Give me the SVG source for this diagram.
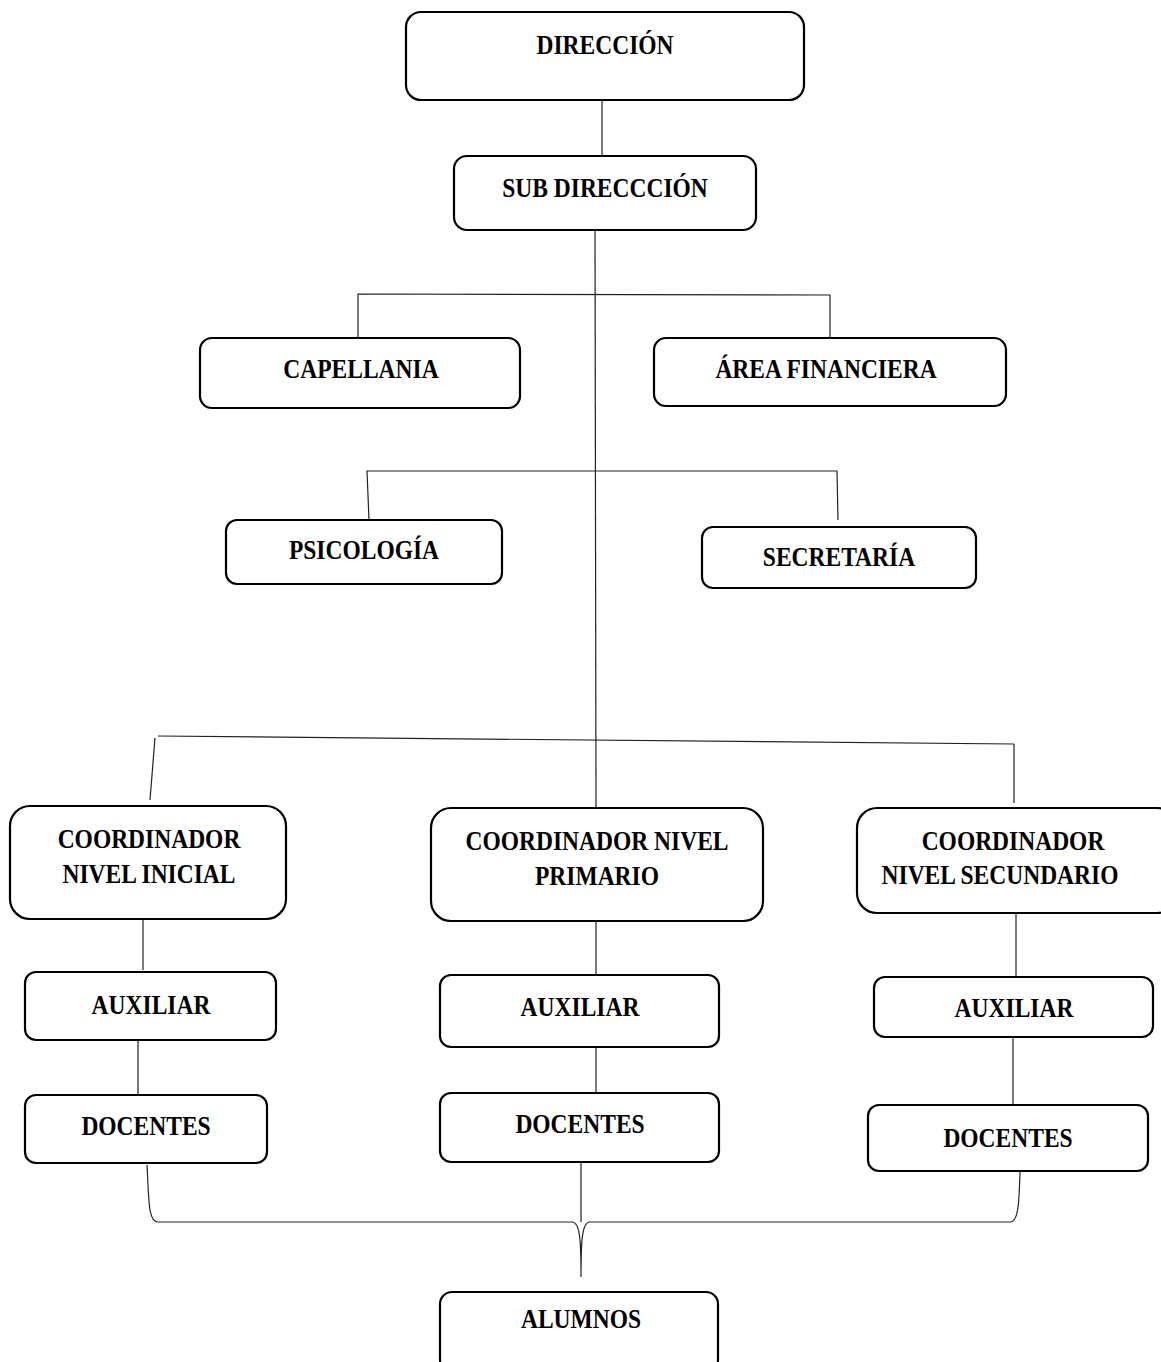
<svg xmlns="http://www.w3.org/2000/svg" width="1161" height="1362" viewBox="0 0 1161 1362">
<style>
.box{fill:#fff;stroke:#000;stroke-width:2.2}
.t{font-family:"Liberation Serif","Times New Roman",serif;font-weight:bold;font-size:23.5px;fill:#000;text-anchor:middle}
.c{fill:none;stroke:#222;stroke-width:1.2}
</style>
<rect width="1161" height="1362" fill="#fff"/>
<g id="connectors">
<line class="c" x1="602" y1="100" x2="602" y2="156"/>
<line class="c" x1="595" y1="225" x2="596" y2="808"/>
<polyline class="c" points="358,338 358,294 830,295 830,345"/>
<polyline class="c" points="369,520 367,471 837,471 838,520"/>
<line class="c" x1="158" y1="736" x2="1014" y2="744"/>
<line class="c" x1="155" y1="738" x2="150" y2="800"/>
<line class="c" x1="1014" y1="744" x2="1014" y2="803"/>
<line class="c" x1="143" y1="906" x2="143" y2="970"/>
<line class="c" x1="596" y1="913" x2="596" y2="975"/>
<line class="c" x1="1016" y1="908" x2="1016" y2="977"/>
<line class="c" x1="138" y1="1040" x2="138" y2="1095"/>
<line class="c" x1="596" y1="1047" x2="596" y2="1093"/>
<line class="c" x1="1013" y1="1037" x2="1013" y2="1105"/>
<line class="c" x1="581" y1="1162" x2="581" y2="1222"/>
<path class="c" d="M147,1165 C149,1200 148,1222 158,1222 L572,1222 C580,1222 581,1240 581,1277 C581,1240 582,1222 590,1222 L1010,1222 C1019,1222 1019,1200 1020,1172"/>
</g>
<g id="direccion"><rect class="box" x="406" y="12" width="398" height="88" rx="15"/><text class="t" transform="translate(605,54) scale(1,1.16)">DIRECCIÓN</text></g>
<g id="subdireccion"><rect class="box" x="454" y="156" width="302" height="74" rx="13"/><text class="t" transform="translate(605,197) scale(1,1.16)">SUB DIRECCCIÓN</text></g>
<g id="capellania"><rect class="box" x="200" y="338" width="320" height="70" rx="12"/><text class="t" transform="translate(361,378) scale(1,1.16)">CAPELLANIA</text></g>
<g id="area-financiera"><rect class="box" x="654" y="338" width="352" height="68" rx="12"/><text class="t" transform="translate(826,378) scale(1,1.16)">ÁREA FINANCIERA</text></g>
<g id="psicologia"><rect class="box" x="226" y="520" width="276" height="64" rx="11"/><text class="t" transform="translate(364,559) scale(1,1.16)">PSICOLOGÍA</text></g>
<g id="secretaria"><rect class="box" x="702" y="527" width="274" height="61" rx="11"/><text class="t" transform="translate(839,566) scale(1,1.16)">SECRETARÍA</text></g>
<g id="coord-inicial"><rect class="box" x="10" y="806" width="276" height="113" rx="20"/><text class="t" transform="translate(149,848) scale(1,1.16)">COORDINADOR</text><text class="t" transform="translate(149,883) scale(1,1.16)">NIVEL INICIAL</text></g>
<g id="coord-primario"><rect class="box" x="431" y="808" width="332" height="113" rx="20"/><text class="t" transform="translate(597,850) scale(1,1.16)">COORDINADOR NIVEL</text><text class="t" transform="translate(597,885) scale(1,1.16)">PRIMARIO</text></g>
<g id="coord-secundario"><rect class="box" x="857" y="808" width="320" height="105" rx="20"/><text class="t" transform="translate(1013,850) scale(1,1.16)">COORDINADOR</text><text class="t" transform="translate(1000,884) scale(1,1.16)">NIVEL SECUNDARIO</text></g>
<g id="auxiliar-inicial"><rect class="box" x="25" y="972" width="251" height="68" rx="11"/><text class="t" transform="translate(151,1014) scale(1,1.16)">AUXILIAR</text></g>
<g id="auxiliar-primario"><rect class="box" x="440" y="975" width="279" height="72" rx="11"/><text class="t" transform="translate(580,1016) scale(1,1.16)">AUXILIAR</text></g>
<g id="auxiliar-secundario"><rect class="box" x="874" y="977" width="279" height="60" rx="11"/><text class="t" transform="translate(1014,1017) scale(1,1.16)">AUXILIAR</text></g>
<g id="docentes-inicial"><rect class="box" x="25" y="1095" width="242" height="68" rx="11"/><text class="t" transform="translate(146,1135) scale(1,1.16)">DOCENTES</text></g>
<g id="docentes-primario"><rect class="box" x="440" y="1093" width="279" height="69" rx="11"/><text class="t" transform="translate(580,1133) scale(1,1.16)">DOCENTES</text></g>
<g id="docentes-secundario"><rect class="box" x="868" y="1105" width="280" height="66" rx="11"/><text class="t" transform="translate(1008,1147) scale(1,1.16)">DOCENTES</text></g>
<g id="alumnos"><rect class="box" x="440" y="1292" width="278" height="80" rx="12"/><text class="t" transform="translate(581,1328) scale(1,1.16)">ALUMNOS</text></g>
</svg>
